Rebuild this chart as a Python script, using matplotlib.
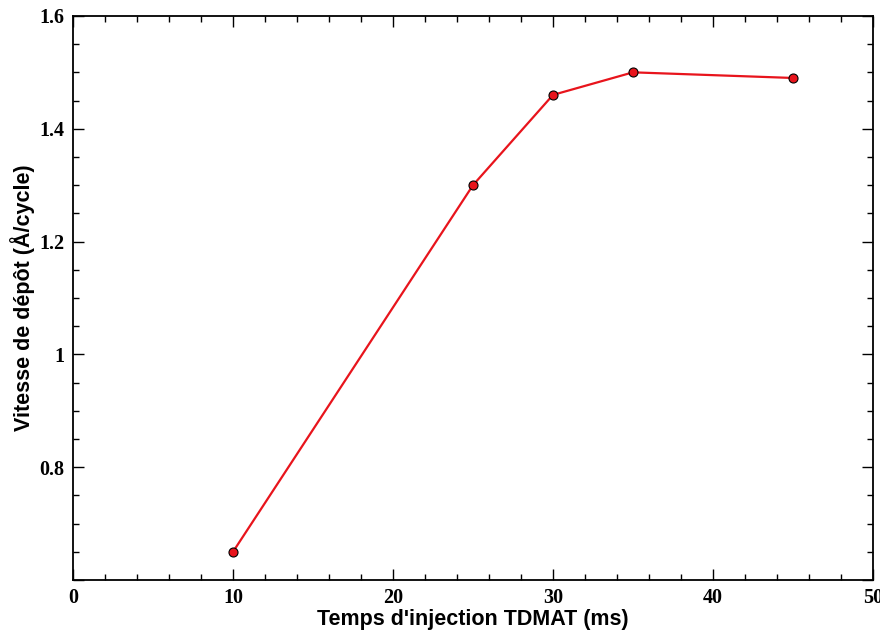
import matplotlib
matplotlib.use("Agg")
import matplotlib.pyplot as plt
from matplotlib.ticker import MultipleLocator, FuncFormatter

# Données
temps_injection = [10, 25, 30, 35, 45]
vitesse_depot = [0.65, 1.30, 1.46, 1.50, 1.49]

fig = plt.figure(figsize=(8.8, 6.37), dpi=100)
ax = fig.add_axes([0.083, 0.0895, 0.909, 0.8855])

ax.plot(temps_injection, vitesse_depot, color='#e8141c', linewidth=1.6,
        marker='o', markersize=6.5, markerfacecolor='#e8141c',
        markeredgecolor='black', markeredgewidth=0.8)

ax.set_xlim(0, 50)
ax.set_ylim(0.6, 1.6)
ax.xaxis.set_major_locator(MultipleLocator(10))
ax.xaxis.set_minor_locator(MultipleLocator(2))
ax.yaxis.set_major_locator(MultipleLocator(0.2))
ax.yaxis.set_minor_locator(MultipleLocator(0.05))
# pas de libellé pour 0.6 (bas de l'axe)
ax.yaxis.set_major_formatter(FuncFormatter(lambda v, p: "" if v < 0.7 else f"{v:g}"))

ax.tick_params(which='both', direction='in', top=True, right=True, width=1.0)
ax.tick_params(which='major', length=8, pad=6)
ax.tick_params(which='minor', length=4)
for lbl in ax.get_xticklabels() + ax.get_yticklabels():
    lbl.set_fontfamily('Liberation Serif')
    lbl.set_fontweight('bold')
    lbl.set_fontsize(14.5)
for s in ax.spines.values():
    s.set_linewidth(1.3)

ax.set_xlabel("Temps d'injection TDMAT (ms)", fontfamily='Liberation Sans',
              fontweight='bold', fontsize=15.5, labelpad=0.5)
ax.set_ylabel("Vitesse de dépôt (Å/cycle)", fontfamily='Liberation Sans',
              fontweight='bold', fontsize=15.5, labelpad=3)

fig.savefig('out.png', dpi=100)
